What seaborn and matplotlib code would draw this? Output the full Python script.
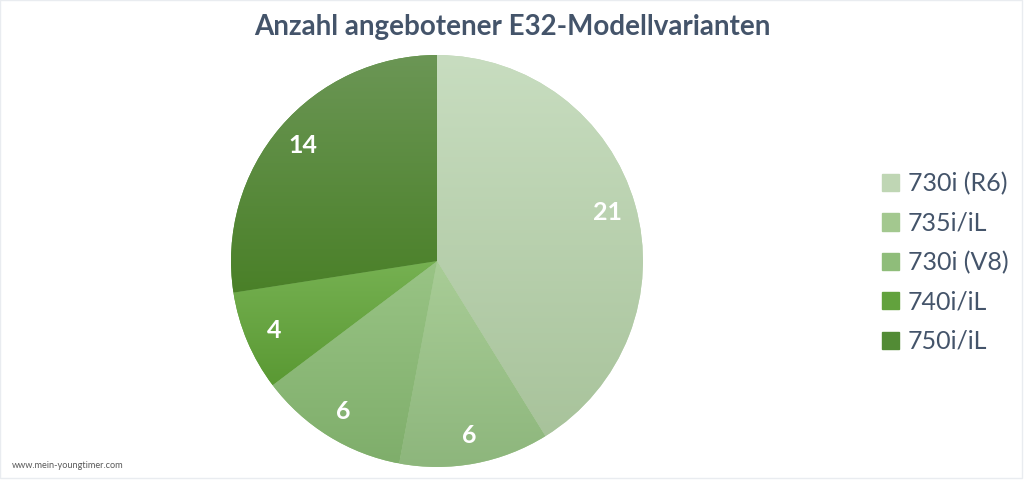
import matplotlib
matplotlib.use("Agg")
import matplotlib.pyplot as plt
from matplotlib.colors import LinearSegmentedColormap
from matplotlib.patches import Rectangle
import numpy as np
import seaborn as sns

# E32 model variants offered
models = ["730i (R6)", "735i/iL", "730i (V8)", "740i/iL", "750i/iL"]
counts = [21, 6, 6, 4, 14]
# gradient per slice: (top colour, bottom colour)
top_colors = ["#c8ddc0", "#a9cd97", "#99c485", "#76b152", "#6b9655"]
bottom_colors = ["#a8c39b", "#8db67c", "#7fae6b", "#5a9933", "#4a8028"]
legend_colors = ["#bfd6b4", "#a3c88f", "#8fbd7a", "#62a23d", "#528b35"]

sns.set_theme(style="white")
plt.rcParams['font.family'] = ['Lato', 'DejaVu Sans']

fig = plt.figure(figsize=(10.24, 4.8), dpi=100)
ax = fig.add_axes([0.2246, 0.025, 0.4043, 0.8625])

wedges, texts, autotexts = ax.pie(
    counts,
    colors=legend_colors,
    startangle=90,
    counterclock=False,
    autopct=lambda p: "%d" % round(p * sum(counts) / 100),
    pctdistance=0.86,
    wedgeprops=dict(linewidth=0),
    textprops=dict(color="white", fontsize=18, fontweight="bold"),
)

# vertical gradient fill inside each slice
for w, c_top, c_bot in zip(wedges, top_colors, bottom_colors):
    verts = w.get_path().vertices
    y0, y1 = verts[:, 1].min(), verts[:, 1].max()
    cmap = LinearSegmentedColormap.from_list("g", [c_bot, c_top])
    grad = np.linspace(0, 1, 256).reshape(-1, 1)
    im = ax.imshow(grad, cmap=cmap, origin="lower", aspect="auto",
                   extent=(-1.01, 1.01, y0, y1), zorder=1.5)
    im.set_clip_path(w)
ax.set_xlim(-1.005, 1.005)
ax.set_ylim(-1.005, 1.005)
ax.set_aspect("equal")
for t in autotexts:
    t.set_zorder(3)

handles = [Rectangle((0, 0), 1, 1, color=c) for c in legend_colors]
leg = fig.legend(
    handles, models,
    loc="center left",
    bbox_to_anchor=(0.839, 0.453),
    frameon=False,
    fontsize=18,
    handlelength=0.68,
    handleheight=0.68,
    handletextpad=0.36,
    labelspacing=0.65,
)
for t in leg.get_texts():
    t.set_color("#44546a")

fig.text(0.5, 1 - 35 / 480, "Anzahl angebotener E32-Modellvarianten",
         ha="center", va="baseline",
         fontsize=20, fontweight="bold", color="#44546a")
fig.text(0.012, 0.025, "www.mein-youngtimer.com", fontsize=6.6, color="#595959")

# faint outer border
fig.patches.append(Rectangle((0.0, 0.005), 0.998, 0.994, transform=fig.transFigure,
                             fill=False, edgecolor="#e9ecf0", linewidth=1))

fig.savefig("out.png", dpi=100)
